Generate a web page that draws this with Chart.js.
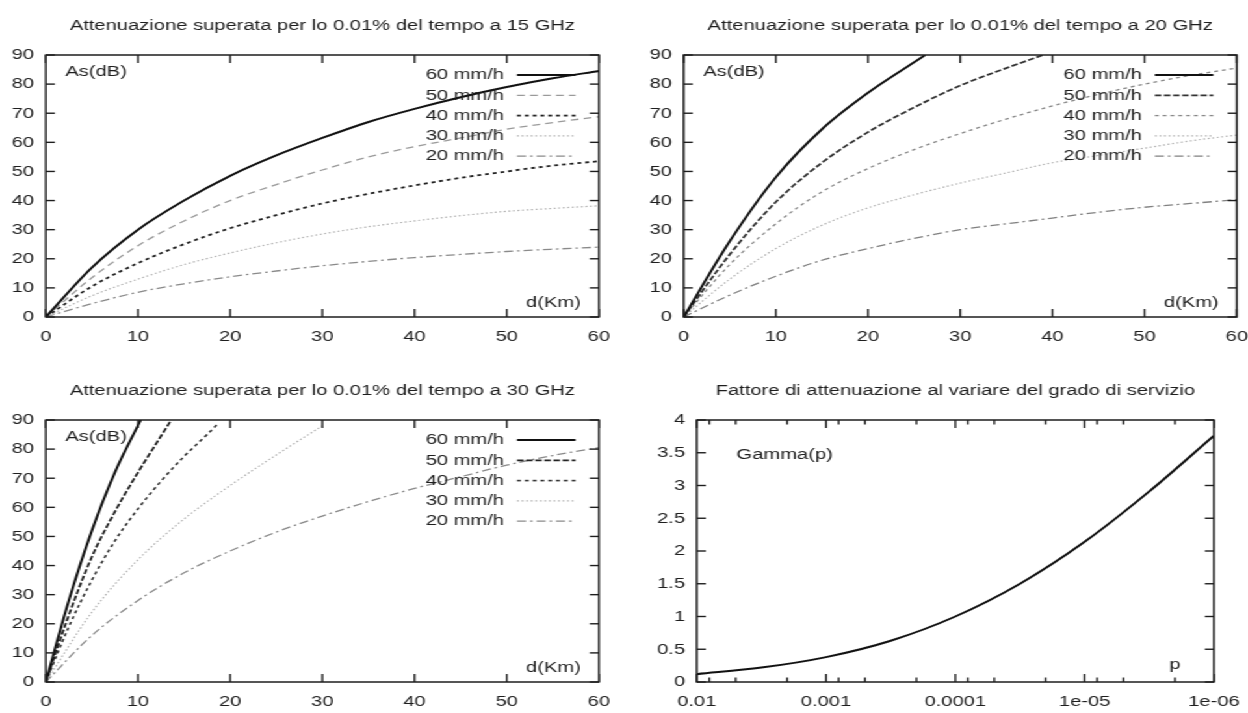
<!DOCTYPE html>
<html lang="it">
<head>
<meta charset="UTF-8">
<title>Attenuazione da pioggia</title>
<script src="https://cdn.jsdelivr.net/npm/chart.js"></script>
<style>
    html, body { margin: 0; padding: 0; background: #fff; overflow: hidden; }
    /* il grafico originale e' allargato in orizzontale */
    #pagina { position: absolute; left: 0; top: 0; width: 960px; height: 713px;
              transform: scaleX(1.3); transform-origin: 0 0; }
    .pannello { position: absolute; }
</style>
</head>
<body>
<div id="pagina">
    <div class="pannello" style="left:0;top:0;width:480px;height:349px"><canvas id="g15"></canvas></div>
    <div class="pannello" style="left:480px;top:0;width:490px;height:349px"><canvas id="g20"></canvas></div>
    <div class="pannello" style="left:0;top:365px;width:480px;height:349px"><canvas id="g30"></canvas></div>
    <div class="pannello" style="left:480px;top:365px;width:490px;height:349px"><canvas id="gamma"></canvas></div>
</div>

<script>
// ---- dati ----
const piogge = ['60 mm/h', '50 mm/h', '40 mm/h', '30 mm/h', '20 mm/h'];
const distanze = [0, 5, 10, 15, 20, 25, 30, 35, 40, 45, 50, 55, 60];

// 15 GHz
const a15_60 = [0, 17, 30, 40, 48.5, 55.5, 61.5, 67, 71.5, 75.5, 79, 82, 84.5];
const a15_50 = [0, 13.5, 24.5, 33, 40, 45.5, 50.5, 55, 58.5, 61.5, 64.5, 66.8, 68.8];
const a15_40 = [0, 10.5, 18.5, 25, 30.5, 35, 39, 42.3, 45.2, 47.8, 50, 52, 53.5];
const a15_30 = [0, 7.3, 13, 18, 22, 25.5, 28.5, 31, 33, 34.8, 36.3, 37.3, 38.2];
const a15_20 = [0, 4.6, 8.5, 11.4, 13.8, 15.8, 17.6, 19.1, 20.4, 21.5, 22.5, 23.3, 24];

// 20 GHz
const d20_60 = [0, 5, 10, 15, 20, 25, 26.2];
const a20_60 = [0, 26, 48, 64.5, 77, 87.5, 90];
const d20_50 = [0, 5, 10, 15, 20, 25, 30, 35, 39];
const a20_50 = [0, 21.5, 39.5, 53, 63.5, 72, 79.5, 85.5, 90];
const a20_40 = [0, 18, 32, 43, 51, 57.5, 63, 68, 72.5, 76.5, 80, 83, 85.5];
const a20_30 = [0, 13, 23.5, 31.5, 37.5, 42, 46, 49.5, 53, 55.5, 58, 60.5, 62.5];
const a20_20 = [0, 7.5, 14, 19.5, 23.5, 27, 30, 32, 34, 36, 37.7, 39, 40.3];

// 30 GHz
const d30_60 = [0, 2.5, 5, 7.5, 10.3];
const a30_60 = [0, 28, 52, 72, 90];
const d30_50 = [0, 2.5, 5, 7.5, 10, 12.5, 13.6];
const a30_50 = [0, 23, 43, 58.5, 72, 84.5, 90];
const d30_40 = [0, 2.5, 5, 7.5, 10, 12.5, 15, 17.5, 18.6];
const a30_40 = [0, 19, 35, 48.5, 59.5, 69, 77.5, 85, 88.5];
const d30_30 = [0, 5, 10, 15, 20, 25, 30];
const a30_30 = [0, 24, 42, 56, 67.5, 78, 88];
const a30_20 = [0, 16, 28, 37.5, 45, 51.5, 57, 62, 66.5, 70.5, 74.5, 77.8, 80.5];

// fattore di attenuazione
const probabilita = [0.01, 0.00316, 0.001, 0.000316, 0.0001, 0.0000316, 0.00001, 0.00000316, 0.000001];
const gammaP = [0.12, 0.22, 0.38, 0.63, 1.0, 1.5, 2.14, 2.91, 3.76];
const tackP = [0.01, 0.001, 0.0001, 0.00001, 0.000001];
const etichetteP = ['0.01', '0.001', '0.0001', '1e-05', '1e-06'];
const minoriP = [0.008, 0.005, 0.002, 0.0008, 0.0005, 0.0002, 0.00008, 0.00005, 0.00002,
                 0.000008, 0.000005, 0.000002];

// ---- stile ----
const FONT_FAM = "'Liberation Sans', Arial, sans-serif";
const FONT_PX = 15.5;
const NERO = '#1e1e1e';
Chart.defaults.font.family = FONT_FAM;
Chart.defaults.font.size = FONT_PX;
Chart.defaults.color = NERO;

function punti(xs, ys) {
    return ys.map((y, i) => ({ x: xs[i], y: y }));
}

function serie(label, xs, ys, colore, spessore, tratto) {
    return {
        label: label,
        data: punti(xs, ys),
        borderColor: colore,
        borderWidth: spessore,
        borderDash: tratto,
        pointRadius: 0,
        fill: false,
        cubicInterpolationMode: 'monotone'
    };
}

// cornice, tacche interne, legenda ed etichette come in gnuplot
function cornice(opz) {
    return {
        id: 'cornice',
        afterDatasetsDraw(chart) {
            const ctx = chart.ctx, a = chart.chartArea;
            const sx = chart.scales.x, sy = chart.scales.y;
            const linea = (x1, y1, x2, y2) => {
                ctx.beginPath(); ctx.moveTo(x1, y1); ctx.lineTo(x2, y2); ctx.stroke();
            };
            ctx.save();
            ctx.strokeStyle = NERO;
            ctx.lineWidth = 1.4;
            sx.ticks.forEach(t => {
                const px = sx.getPixelForValue(t.value);
                linea(px, a.bottom, px, a.bottom - 8);
                linea(px, a.top, px, a.top + 8);
            });
            (opz.minori || []).forEach(v => {
                const px = sx.getPixelForValue(v);
                linea(px, a.bottom, px, a.bottom - 4.5);
                linea(px, a.top, px, a.top + 4.5);
            });
            sy.ticks.forEach(t => {
                const py = sy.getPixelForValue(t.value);
                linea(a.left, py, a.left + 7, py);
                linea(a.right, py, a.right - 7, py);
            });
            ctx.lineWidth = 1.5;
            ctx.strokeRect(a.left, a.top, a.right - a.left, a.bottom - a.top);

            ctx.font = FONT_PX + 'px ' + FONT_FAM;
            ctx.fillStyle = NERO;
            ctx.textBaseline = 'middle';
            if (opz.legenda) {
                chart.data.datasets.forEach((ds, i) => {
                    const y = a.top + 20 + i * 20.3;
                    ctx.textAlign = 'right';
                    ctx.fillText(ds.label, a.right - 73, y);
                    ctx.save();
                    ctx.strokeStyle = ds.borderColor;
                    ctx.lineWidth = ds.borderWidth;
                    ctx.setLineDash(ds.borderDash || []);
                    linea(a.right - 63, y, a.right - 18, y);
                    ctx.restore();
                });
            }
            ctx.textAlign = 'left';
            ctx.fillText(opz.etY, a.left + opz.dxY, a.top + opz.dyY);
            ctx.textAlign = 'center';
            ctx.fillText(opz.etX, a.right - opz.dxX, a.bottom - opz.dyX);
            ctx.restore();
        }
    };
}

function opzioni(titolo, larghezzaY, destra, scalaX, scalaY) {
    return {
        responsive: true,
        maintainAspectRatio: false,
        animation: false,
        layout: { autoPadding: false, padding: { left: 0, right: destra, top: 0, bottom: 0 } },
        plugins: {
            legend: { display: false },
            tooltip: { enabled: false },
            title: {
                display: true, text: titolo, fullSize: false, color: NERO,
                font: { size: FONT_PX, weight: 'normal' },
                padding: { top: 16.7, bottom: 19.7 }
            }
        },
        scales: {
            x: Object.assign({
                grid: { display: false, drawTicks: false },
                border: { display: false },
                afterFit: s => { s.height = 32; }
            }, scalaX),
            y: Object.assign({
                grid: { display: false, drawTicks: false },
                border: { display: false },
                afterFit: s => { s.width = larghezzaY; }
            }, scalaY)
        }
    };
}

const asseKm = { type: 'linear', min: 0, max: 60, ticks: { stepSize: 10, padding: 10, maxRotation: 0, autoSkip: false, color: NERO } };
const asseDb = { min: 0, max: 90, ticks: { stepSize: 10, padding: 9, color: NERO } };
const etichetteAtt = { legenda: true, etY: 'As(dB)', dxY: 15, dyY: 17, etX: 'd(Km)', dxX: 35, dyX: 14 };

new Chart(document.getElementById('g15'), {
    type: 'line',
    data: { datasets: [
        serie(piogge[0], distanze, a15_60, '#111', 2, []),
        serie(piogge[1], distanze, a15_50, '#9a9a9a', 1.3, [6, 4]),
        serie(piogge[2], distanze, a15_40, '#222', 1.8, [3, 3]),
        serie(piogge[3], distanze, a15_30, '#b0b0b0', 1.2, [1.5, 2]),
        serie(piogge[4], distanze, a15_20, '#8a8a8a', 1.3, [7, 3, 2, 3])
    ] },
    options: opzioni('Attenuazione superata per lo 0.01% del tempo a 15 GHz', 35.2, 19.3, asseKm, asseDb),
    plugins: [cornice(etichetteAtt)]
});

new Chart(document.getElementById('g20'), {
    type: 'line',
    data: { datasets: [
        serie(piogge[0], d20_60, a20_60, '#111', 2, []),
        serie(piogge[1], d20_50, a20_50, '#333', 1.8, [5, 2]),
        serie(piogge[2], distanze, a20_40, '#888', 1.3, [3, 3]),
        serie(piogge[3], distanze, a20_30, '#b0b0b0', 1.2, [1.5, 2]),
        serie(piogge[4], distanze, a20_20, '#808080', 1.3, [7, 3, 2, 3])
    ] },
    options: opzioni('Attenuazione superata per lo 0.01% del tempo a 20 GHz', 45.9, 18.6, asseKm, asseDb),
    plugins: [cornice(etichetteAtt)]
});

new Chart(document.getElementById('g30'), {
    type: 'line',
    data: { datasets: [
        serie(piogge[0], d30_60, a30_60, '#111', 2, []),
        serie(piogge[1], d30_50, a30_50, '#222', 1.8, [5, 2]),
        serie(piogge[2], d30_40, a30_40, '#333', 1.6, [3, 3]),
        serie(piogge[3], d30_30, a30_30, '#b0b0b0', 1.2, [1.5, 2]),
        serie(piogge[4], distanze, a30_20, '#8a8a8a', 1.3, [7, 3, 2, 3])
    ] },
    options: opzioni('Attenuazione superata per lo 0.01% del tempo a 30 GHz', 35.2, 19.3, asseKm, asseDb),
    plugins: [cornice(etichetteAtt)]
});

new Chart(document.getElementById('gamma'), {
    type: 'line',
    data: { datasets: [
        serie('Gamma(p)', probabilita, gammaP, '#111', 2, [])
    ] },
    options: opzioni('Fattore di attenuazione al variare del grado di servizio', 56, 36.2,
        {
            type: 'logarithmic', min: 0.000001, max: 0.01, reverse: true,
            afterBuildTicks: s => { s.ticks = tackP.map(v => ({ value: v })); },
            ticks: { padding: 10, maxRotation: 0, autoSkip: false, color: NERO,
                     callback: (v, i) => etichetteP[i] }
        },
        { min: 0, max: 4, ticks: { stepSize: 0.5, padding: 9, color: NERO, callback: v => String(v) } }),
    plugins: [cornice({ legenda: false, minori: minoriP, etY: 'Gamma(p)', dxY: 30.6, dyY: 35, etX: 'p', dxX: 30, dyX: 17 })]
});
</script>
</body>
</html>
